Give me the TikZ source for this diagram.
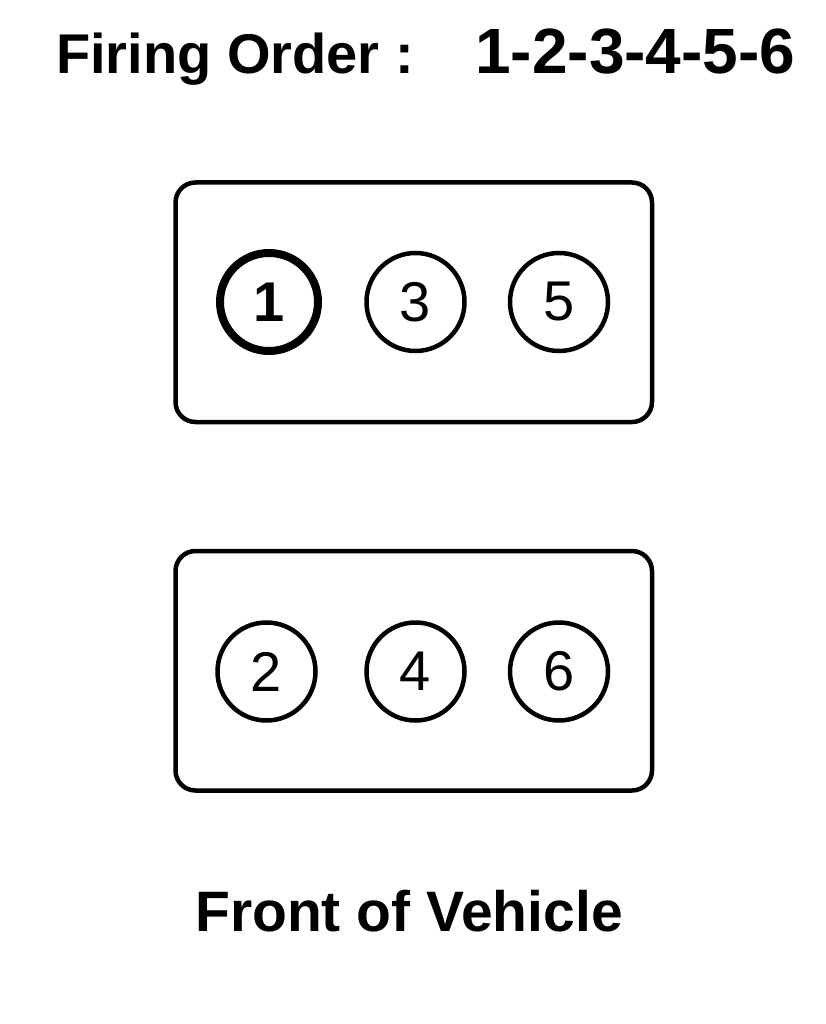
\documentclass[tikz,border=0pt]{standalone}
\usepackage{fontspec}
\setmainfont{Liberation Sans}
\usepackage{xcolor}
\usetikzlibrary{positioning}

\begin{document}
\begin{tikzpicture}[
  x=1pt,y=-1pt,
  bank/.style={
    rectangle, rounded corners=20pt, line width=4.5pt, draw=black,
    minimum width=476.5pt, minimum height=239.5pt
  },
  bore/.style={
    circle, line width=4.5pt, draw=black, inner sep=0pt,
    minimum size=98pt, font=\fontsize{56}{60}\selectfont
  },
  lead/.style={bore, line width=8pt, font=\fontsize{56}{60}\selectfont\bfseries},
  heading/.style={inner sep=0pt, font=\fontsize{56}{60}\selectfont\bfseries}
]
\useasboundingbox (0,0) rectangle (825,1024);

% ---- title ----
\node[heading, anchor=base west] (title) at (56,74) {Firing Order :};
\node[heading, anchor=base west, font=\fontsize{64}{68}\selectfont\bfseries] (order) at (475,74) {1-2-3-4-5-6};

% ---- cylinder banks ----
\node[bank] (rear)  at (413.75,302.25) {};
\node[bank] (front) at (413.75,670.75) {};

\node[lead] (c1) at (269,302)   {1};
\node[bore] (c3) at (415.5,302) {3};
\node[bore] (c5) at (559,302)   {5};

\node[bore] (c2) at (266.5,671.5) {2};
\node[bore] (c4) at (415.5,671.5) {4};
\node[bore] (c6) at (559,671.5)   {6};

% ---- caption ----
\node[heading, anchor=base, font=\fontsize{57}{60}\selectfont\bfseries] (caption) at (409,931) {Front of Vehicle};

\end{tikzpicture}
\end{document}
